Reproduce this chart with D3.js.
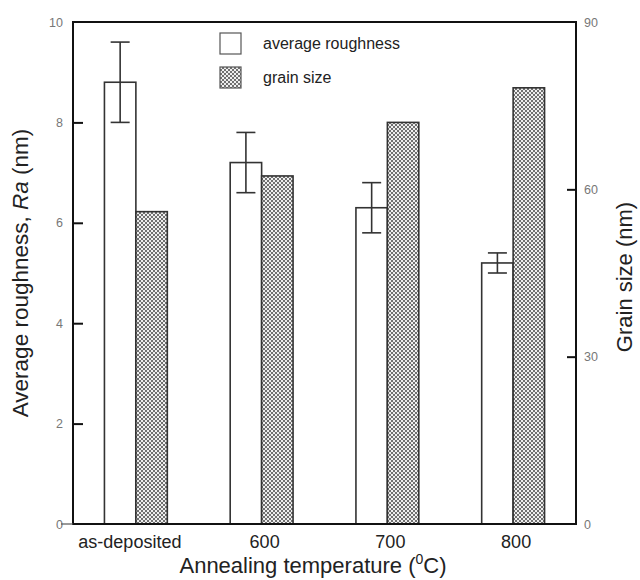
<!DOCTYPE html>
<html>
<head>
<meta charset="utf-8">
<script src="https://cdn.jsdelivr.net/npm/d3@7"></script>
<style>
  body { margin: 0; background: #fff; }
  svg { font-family: "Liberation Sans", Arial, sans-serif; }
</style>
</head>
<body>
<div id="wrapper"></div>
<script>
// data
const categories = ["as-deposited", "600", "700", "800"];
const roughness = [8.8, 7.2, 6.3, 5.2];
const roughErrLow = [8.0, 6.6, 5.8, 5.0];
const roughErrHigh = [9.6, 7.8, 6.8, 5.4];
const grainSize = [56, 62.4, 72, 78.2];
const leftTicks = [0, 2, 4, 6, 8, 10];
const rightTicks = [0, 30, 60, 90];

function buildPlot() {
    const dimension = {
        width: 640,
        height: 580,
        margin: { top: 22, left: 73, bottom: 56, right: 64 }
    };
    dimension.boundedWidth = dimension.width - dimension.margin.left - dimension.margin.right;
    dimension.boundedHeight = dimension.height - dimension.margin.top - dimension.margin.bottom;

    const svg = d3.select("#wrapper").append("svg")
        .attr("width", dimension.width)
        .attr("height", dimension.height);

    // cross-hatch fill for grain size bars
    const defs = svg.append("defs");
    const pat = defs.append("pattern")
        .attr("id", "hatch")
        .attr("patternUnits", "userSpaceOnUse")
        .attr("width", 4)
        .attr("height", 4);
    pat.append("rect").attr("width", 4).attr("height", 4).attr("fill", "#ececec");
    pat.append("rect").attr("x", 0).attr("y", 0).attr("width", 2).attr("height", 2).attr("fill", "#707070");
    pat.append("rect").attr("x", 2).attr("y", 2).attr("width", 2).attr("height", 2).attr("fill", "#707070");
    pat.append("rect").attr("x", 2.5).attr("y", 0.5).attr("width", 1).attr("height", 1).attr("fill", "#fff");

    const bounded = svg.append("g")
        .attr("transform", `translate(${dimension.margin.left},${dimension.margin.top})`);

    const xScaler = d3.scaleBand()
        .domain(categories)
        .range([0, dimension.boundedWidth])
        .paddingInner(0.5)
        .paddingOuter(0.25);
    const xInner = d3.scaleBand()
        .domain(["rough", "grain"])
        .range([0, xScaler.bandwidth()]);

    const yScaler = d3.scaleLinear().domain([0, 10]).range([dimension.boundedHeight, 0]);
    const y2Scaler = d3.scaleLinear().domain([0, 90]).range([dimension.boundedHeight, 0]);

    // roughness bars
    bounded.selectAll(".rough")
        .data(categories)
        .join("rect")
        .attr("x", d => xScaler(d) + xInner("rough"))
        .attr("y", (d, i) => yScaler(roughness[i]))
        .attr("width", xInner.bandwidth())
        .attr("height", (d, i) => dimension.boundedHeight - yScaler(roughness[i]))
        .attr("fill", "#fff")
        .attr("stroke", "#333")
        .attr("stroke-width", 1.6);

    // grain size bars
    bounded.selectAll(".grain")
        .data(categories)
        .join("rect")
        .attr("x", d => xScaler(d) + xInner("grain"))
        .attr("y", (d, i) => y2Scaler(grainSize[i]))
        .attr("width", xInner.bandwidth())
        .attr("height", (d, i) => dimension.boundedHeight - y2Scaler(grainSize[i]))
        .attr("fill", "url(#hatch)")
        .attr("stroke", "#333")
        .attr("stroke-width", 1.6);

    // error bars
    const capW = 19;
    const err = bounded.append("g").attr("stroke", "#333").attr("stroke-width", 1.6);
    categories.forEach((c, i) => {
        const cx = xScaler(c) + xInner("rough") + xInner.bandwidth() / 2;
        err.append("line")
            .attr("x1", cx).attr("x2", cx)
            .attr("y1", yScaler(roughErrLow[i])).attr("y2", yScaler(roughErrHigh[i]));
        err.append("line")
            .attr("x1", cx - capW / 2).attr("x2", cx + capW / 2)
            .attr("y1", yScaler(roughErrHigh[i])).attr("y2", yScaler(roughErrHigh[i]));
        err.append("line")
            .attr("x1", cx - capW / 2).attr("x2", cx + capW / 2)
            .attr("y1", yScaler(roughErrLow[i])).attr("y2", yScaler(roughErrLow[i]));
    });

    // axes
    const leftAxis = d3.axisLeft(yScaler).tickValues(leftTicks).tickSize(-10).tickPadding(10);
    const rightAxis = d3.axisRight(y2Scaler).tickValues(rightTicks).tickSize(-9).tickPadding(8);

    const gl = bounded.append("g").call(leftAxis);
    const gr = bounded.append("g").attr("transform", `translate(${dimension.boundedWidth},0)`).call(rightAxis);
    [gl, gr].forEach(g => {
        g.select(".domain").remove();
        g.selectAll(".tick line").attr("stroke", "#111").attr("stroke-width", 2);
        g.selectAll(".tick text")
            .attr("fill", "#777")
            .style("font-size", "12.5px")
            .style("font-family", "'Liberation Sans Narrow', 'Liberation Sans', Arial, sans-serif");
        g.selectAll(".tick").filter(d => d === 0 || d === 10 || d === 90).select("line").remove();
    });

    const xAxis = d3.axisBottom(xScaler).tickSize(0).tickPadding(11);
    const gx = bounded.append("g").attr("transform", `translate(0,${dimension.boundedHeight})`).call(xAxis);
    gx.select(".domain").remove();
    gx.selectAll(".tick text")
        .attr("fill", "#222")
        .attr("dx", (d, i) => i === 0 ? -6 : 3)
        .style("font-size", "18px");

    // frame
    bounded.append("rect")
        .attr("width", dimension.boundedWidth)
        .attr("height", dimension.boundedHeight)
        .attr("fill", "none")
        .attr("stroke", "#111")
        .attr("stroke-width", 2);
    bounded.append("line")
        .attr("x1", -12).attr("x2", 0)
        .attr("y1", dimension.boundedHeight).attr("y2", dimension.boundedHeight)
        .attr("stroke", "#555").attr("stroke-width", 1.2);

    // legend
    const legend = svg.append("g").attr("transform", "translate(220,33)");
    const legendItems = [
        { label: "average roughness", fill: "#fff" },
        { label: "grain size", fill: "url(#hatch)" }
    ];
    legendItems.forEach((d, i) => {
        legend.append("rect")
            .attr("x", 0).attr("y", i * 34)
            .attr("width", 21).attr("height", 21)
            .attr("fill", d.fill)
            .attr("stroke", "#555")
            .attr("stroke-width", 1.2);
        legend.append("text")
            .attr("x", 43).attr("y", i * 34 + 16)
            .attr("fill", "#222")
            .style("font-size", "16px")
            .text(d.label);
    });

    // axis titles
    const xt = svg.append("text")
        .attr("x", 313)
        .attr("y", 573)
        .attr("text-anchor", "middle")
        .attr("fill", "#222")
        .style("font-size", "22px");
    xt.append("tspan").text("Annealing temperature (");
    xt.append("tspan").attr("dy", -9).style("font-size", "14px").text("0");
    xt.append("tspan").attr("dy", 9).text("C)");

    const yt = svg.append("text")
        .attr("transform", "rotate(-90)")
        .attr("x", -273)
        .attr("y", 28)
        .attr("text-anchor", "middle")
        .attr("fill", "#222")
        .style("font-size", "22.5px");
    yt.append("tspan").text("Average roughness, ");
    yt.append("tspan").style("font-style", "italic").text("Ra");
    yt.append("tspan").text(" (nm)");

    svg.append("text")
        .attr("transform", "rotate(-90)")
        .attr("x", -277)
        .attr("y", 632)
        .attr("text-anchor", "middle")
        .attr("fill", "#222")
        .style("font-size", "22px")
        .text("Grain size (nm)");
}

buildPlot();
</script>
</body>
</html>
